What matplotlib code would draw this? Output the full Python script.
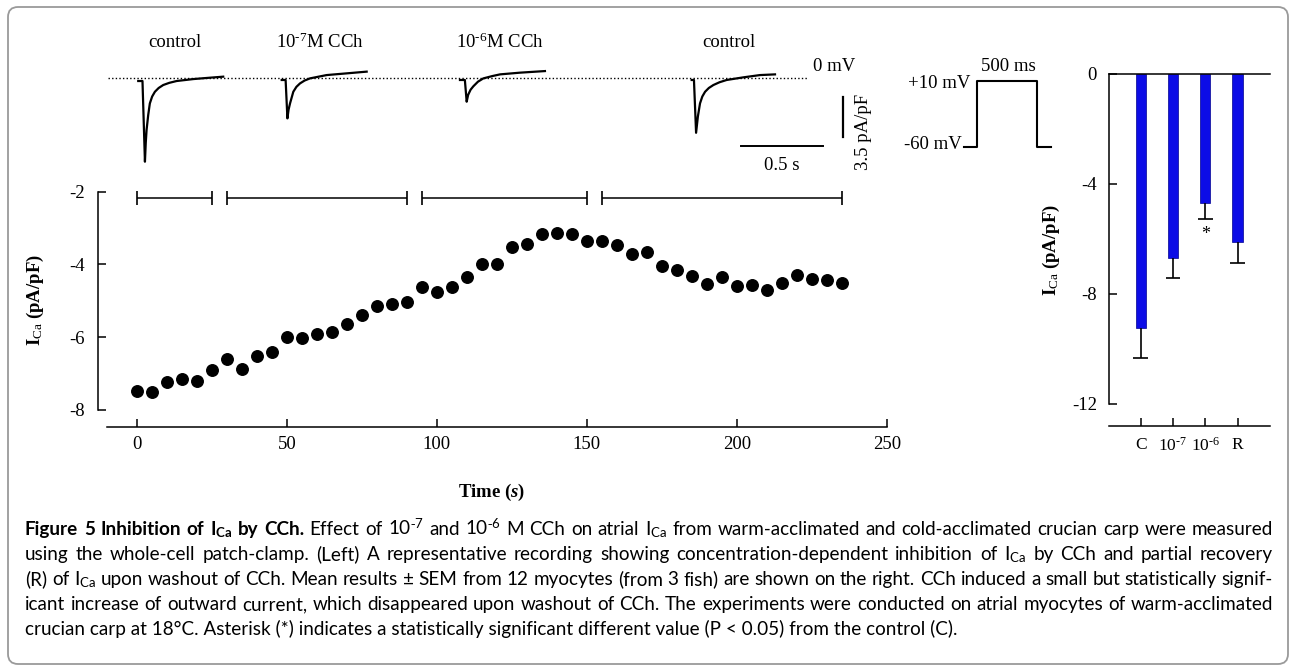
import matplotlib.pyplot as plt
import numpy as np
from matplotlib.patches import FancyBboxPatch
from matplotlib.transforms import IdentityTransform

plt.rcParams['font.family'] = 'Liberation Serif'
plt.rcParams['axes.unicode_minus'] = False
plt.rcParams['mathtext.fontset'] = 'custom'
plt.rcParams['mathtext.rm'] = 'Liberation Serif'
plt.rcParams['mathtext.it'] = 'Liberation Serif:italic:bold'
plt.rcParams['mathtext.bf'] = 'Liberation Serif:bold'
plt.rcParams['mathtext.sf'] = 'Lato'
plt.rcParams['mathtext.cal'] = 'Lato:bold'

# ---- time course of I_Ca ----
time_s = [0, 5, 10, 15, 20, 25, 30, 35, 40, 45, 50, 55, 60, 65, 70, 75,
          80, 85, 90, 95, 100, 105, 110, 115, 120, 125, 130, 135, 140, 145, 150, 155,
          160, 165, 170, 175, 180, 185, 190, 195, 200, 205, 210, 215, 220, 225, 230, 235]
ica = [-7.47, -7.50, -7.23, -7.16, -7.20, -6.90, -6.61, -6.88, -6.51, -6.42, -6.00, -6.02,
       -5.92, -5.86, -5.63, -5.40, -5.14, -5.09, -5.02, -4.63, -4.75, -4.61, -4.34, -3.99,
       -3.99, -3.51, -3.45, -3.16, -3.13, -3.16, -3.36, -3.35, -3.47, -3.70, -3.65, -4.04,
       -4.15, -4.31, -4.55, -4.34, -4.59, -4.56, -4.70, -4.52, -4.28, -4.40, -4.44, -4.51]
period_start = [0, 30, 95, 155]
period_end = [25, 90, 150, 235]

# ---- representative traces (ms from step, pA/pF) ----
ctrl1_t = [0, 26, 41, 46, 51, 61, 71, 85, 102, 125, 153, 190, 235, 337, 439, 520]
ctrl1_i = [-0.29, -0.29, -7.35, -5.70, -4.58, -3.27, -2.25, -1.65, -1.23, -0.90, -0.64, -0.45,
           -0.29, -0.12, 0.0, 0.09]
cch7_t = [0, 24, 35, 42, 51, 71, 90, 112, 140, 173, 275, 398, 520]
cch7_i = [-0.20, -0.20, -3.56, -2.80, -2.25, -1.23, -0.80, -0.50, -0.25, -0.06, 0.23, 0.38, 0.53]
cch6_t = [0, 30, 41, 50, 65, 82, 110, 143, 200, 245, 367, 520]
cch6_i = [-0.20, -0.20, -2.10, -1.50, -1.05, -0.75, -0.35, -0.06, 0.15, 0.29, 0.44, 0.58]
ctrl2_t = [0, 14, 27, 38, 51, 65, 82, 105, 133, 170, 214, 316, 418, 510]
ctrl2_i = [-0.20, -0.20, -4.82, -3.40, -2.25, -1.65, -1.23, -0.90, -0.64, -0.40, -0.20, 0.03,
           0.23, 0.29]
trace_labels = ['control', '10$^{\\text{-}7}$M CCh', '10$^{\\text{-}6}$M CCh', 'control']

# ---- voltage protocol ----
prot_t = [-105, 0, 0, 500, 500, 610]
prot_v = [-60, -60, 10, 10, -60, -60]

# ---- mean results ----
bar_labels = ['C', '10$^{\\text{-}7}$', '10$^{\\text{-}6}$', 'R']
bar_means = [-9.22, -6.68, -4.68, -6.11]
bar_sems = [1.09, 0.74, 0.59, 0.77]
bar_sig = [False, False, True, False]

W, H = 1289, 668
fig = plt.figure(figsize=(W / 100, H / 100), dpi=100)


def px_axes(left, top, right, bottom):
    return fig.add_axes([left / W, 1 - bottom / H, (right - left) / W, (bottom - top) / H])


# frame
fig.add_artist(FancyBboxPatch((8, 4), 1280, 657, boxstyle='round,pad=0,rounding_size=10',
                              transform=IdentityTransform(), fc='none', ec='#9a9a9a', lw=1.3))

FS = 13.5

# ---- traces ----
ax_tr = px_axes(100, 30, 870, 180)
ax_tr.set_xlim(0, 770 / 163.4)
ax_tr.set_ylim(-(180 - 77.7) / 11.43, (77.7 - 30) / 11.43)
ax_tr.axis('off')
ax_tr.plot([0.049, 4.335], [0, 0], ls=(0, (1, 1.6)), color='black', lw=1)
offsets = [0.234, 1.112, 2.203, 3.621]
traces = [(ctrl1_t, ctrl1_i), (cch7_t, cch7_i), (cch6_t, cch6_i), (ctrl2_t, ctrl2_i)]
label_x = [0.459, 1.346, 2.446, 3.849]
for off, (tt, ii), lab, lx in zip(offsets, traces, trace_labels, label_x):
    ax_tr.plot(off + np.array(tt) / 1000.0, ii, color='black', lw=1.6)
    ax_tr.text(lx, 3.06, lab, ha='center', va='center', fontsize=FS)
ax_tr.text(4.365, 0.96, '0 mV', ha='left', va='center', fontsize=FS)
ax_tr.plot([3.925, 4.425], [-5.98, -5.98], color='black', lw=1.4)
ax_tr.text(4.175, -7.64, '0.5 s', ha='center', va='center', fontsize=FS)
ax_tr.plot([4.545, 4.545], [-1.71, -1.71 - 3.5], color='black', lw=1.6)
ax_tr.text(4.671, -4.75, '3.5 pA/pF', ha='center', va='center', rotation=90, fontsize=FS)

# ---- protocol ----
ax_pr = px_axes(880, 40, 1080, 170)
ax_pr.set_xlim(-797.9, 852)
ax_pr.set_ylim(-83.9, 52.8)
ax_pr.axis('off')
ax_pr.plot(prot_t, prot_v, color='black', lw=1.5)
ax_pr.text(-49, 6.6, '+10 mV', ha='right', va='center', fontsize=FS)
ax_pr.text(-124, -57.6, '-60 mV', ha='right', va='center', fontsize=FS)
ax_pr.text(260, 24.8, '500 ms', ha='center', va='center', fontsize=FS)

# ---- time course ----
ax = px_axes(97.7, 191.7, 887, 426.7)
ax.plot(time_s, ica, 'o', color='black', ms=8.3, clip_on=False)
ax.hlines([-2.17] * 4, period_start, period_end, color='black', lw=1.1, clip_on=False)
ax.plot(period_start + period_end, [-2.17] * 8, '|', color='black', ms=9.5, mew=1.2, clip_on=False)
ax.set_xlim(-13, 250)
ax.set_ylim(-8.46, -2)
ax.set_xticks([0, 50, 100, 150, 200, 250])
ax.set_yticks([-8, -6, -4, -2])
for s in ['top', 'right']:
    ax.spines[s].set_visible(False)
ax.spines['left'].set_bounds(-8, -2)
ax.spines['bottom'].set_bounds(-10, 250)
for s in ['left', 'bottom']:
    ax.spines[s].set_linewidth(1.1)
ax.tick_params(direction='in', length=5.5, width=1.1, labelsize=FS)
ax.tick_params(axis='x', pad=7)
ax.tick_params(axis='y', pad=9)
fig.text(492 / W, 1 - 492 / H, 'Time ($s$)', ha='center', va='center', fontsize=FS, fontweight='bold')
fig.text(35 / W, 1 - 300 / H, 'I$_{\\rm Ca}$ (pA/pF)', ha='center', va='center', rotation=90,
         fontsize=FS, fontweight='bold')

# ---- bars ----
axb = px_axes(1109.3, 74, 1270, 425.7)
xb = np.arange(len(bar_means))
means = np.array(bar_means)
sems = np.array(bar_sems)
axb.bar(xb, means, width=0.32, color='#0c0ce6', edgecolor='#000090', lw=0.5, zorder=2)
axb.vlines(xb, means, means - sems, color='black', lw=1.2, zorder=3)
axb.hlines(means - sems, xb - 0.23, xb + 0.23, color='black', lw=1.2, zorder=3)
for x, m, e, sig in zip(xb, means, sems, bar_sig):
    if sig:
        axb.text(x, m - e - 0.55, '*', ha='center', va='center', fontsize=13)
axb.set_xlim(-0.972, 4.003)
axb.set_ylim(-12.79, 0)
axb.set_yticks([0, -4, -8, -12])
axb.set_xticks(xb)
axb.set_xticklabels(bar_labels)
axb.spines['right'].set_visible(False)
axb.spines['left'].set_bounds(-12, 0)
for s in ['left', 'bottom', 'top']:
    axb.spines[s].set_linewidth(1.1)
axb.tick_params(direction='in', length=5.5, width=1.1, labelsize=FS)
axb.tick_params(axis='x', pad=8, labelsize=12.5)
axb.tick_params(axis='y', pad=9)
fig.text(1051.7 / W, 1 - 250 / H, 'I$_{\\rm Ca}$ (pA/pF)', ha='center', va='center', rotation=90,
         fontsize=FS, fontweight='bold')

# ---- caption (justified lines) ----
CAP_FONT = 'Lato'
CAP_SIZE = 13.6
cap_left, cap_right = 25, 1273
ICA = 'I$_{\\mathsf{Ca}}$'
lines = [
    ('**Figure **5 **Inhibition **of **I$_{\\mathcal{Ca}}$ **by **CCh. Effect of 10$^{\\mathsf{\\text{-}7}}$ and '
     '10$^{\\mathsf{\\text{-}6}}$ M CCh on atrial ' + ICA
     + ' from warm-acclimated and cold-acclimated crucian carp were measured', True),
    ('using the whole-cell patch-clamp. (Left) A representative recording showing concentration-dependent inhibition of '
     + ICA + ' by CCh and partial recovery', True),
    ('(R) of ' + ICA + ' upon washout of CCh. Mean results \u00b1 SEM from 12 myocytes (from 3 fish) are shown on the right. '
     'CCh induced a small but statistically signif-', True),
    ('icant increase of outward current, which disappeared upon washout of CCh. The experiments were conducted on atrial '
     'myocytes of warm-acclimated', True),
    ('crucian carp at 18\u00b0C. Asterisk (*) indicates a statistically significant different value (P < 0.05) '
     'from the control (C).', False),
]
renderer = fig.canvas.get_renderer()
base_y = 535
for k, (line, justify) in enumerate(lines):
    y = 1 - (base_y + k * 25) / H
    if not justify:
        fig.text(cap_left / W, y, line, fontfamily=CAP_FONT, fontsize=CAP_SIZE, ha='left', va='baseline')
        continue
    arts, widths = [], []
    for word in line.split(' '):
        bold = word.startswith('**')
        t = fig.text(0, y, word.replace('**', ''), fontfamily=CAP_FONT, fontsize=CAP_SIZE,
                     fontweight='bold' if bold else 'normal', ha='left', va='baseline')
        arts.append(t)
        widths.append(t.get_window_extent(renderer).width)
    gap = (cap_right - cap_left - sum(widths)) / (len(arts) - 1)
    x = cap_left
    for t, w in zip(arts, widths):
        t.set_x(x / W)
        x += w + gap

fig.savefig('out.png', dpi=100)
